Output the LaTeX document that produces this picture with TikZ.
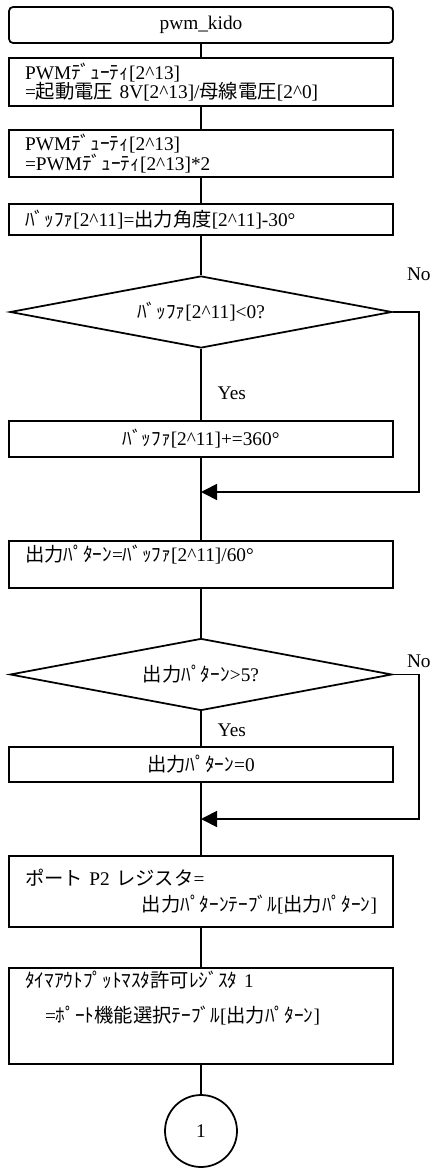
\documentclass[tikz,border=0pt]{standalone}
\usepackage{fontspec}
\setmainfont{Liberation Serif}
\newfontfamily\cjk{Noto Sans CJK JP}
\usetikzlibrary{shapes.geometric, arrows.meta, positioning}
\newcommand{\qpow}[1]{[2\textasciicircum#1]}
\tikzstyle{term} = [rectangle, rounded corners=0.08cm, minimum width=7.68cm, minimum height=0.72cm, text centered, draw=black, line width=1pt]
\tikzstyle{proc} = [rectangle, minimum width=7.68cm, text width=7.04cm, inner xsep=0.32cm, inner ysep=0pt, align=left, draw=black, line width=1pt]
\tikzstyle{decision} = [diamond, aspect=5.3, minimum width=7.64cm, minimum height=1.44cm, inner sep=0pt, text centered, draw=black, line width=1pt]
\tikzstyle{conn} = [circle, minimum size=1.44cm, draw=black, line width=1pt]
\tikzstyle{line} = [line width=1pt]
\tikzstyle{arrow} = [line width=1pt, -{Triangle[length=0.32cm,width=0.32cm]}]
\begin{document}
\begin{tikzpicture}[x=0.02cm, y=-0.02cm, font=\fontsize{11}{11}\selectfont]
\useasboundingbox (0,0) rectangle (431,1168);

\node (start) [term] at (201,25) {pwm\_kido};

\node (duty) [proc, minimum height=0.96cm] at (201,82) {PWM{\cjk ﾃﾞｭｰﾃｨ}\qpow{13}\\={\cjk 起動電圧} 8V\qpow{13}/{\cjk 母線電圧}\qpow{0}};
\node (dutyx) [proc, minimum height=0.94cm] at (201,153.5) {PWM{\cjk ﾃﾞｭｰﾃｨ}\qpow{13}\\=PWM{\cjk ﾃﾞｭｰﾃｨ}\qpow{13}*2};
\node (buf) [proc, minimum height=0.62cm] at (201,219.5) {{\cjk ﾊﾞｯﾌｧ}\qpow{11}={\cjk 出力角度}\qpow{11}-30°};

\node (negq) [decision] at (201,312) {{\cjk ﾊﾞｯﾌｧ}\qpow{11}<0?};
\node (wrap) [proc, align=center, minimum height=0.72cm] at (201,439) {{\cjk ﾊﾞｯﾌｧ}\qpow{11}+=360°};
\coordinate (join1) at (201,492);

\node (pat) [proc, minimum height=0.94cm, text depth=0.44cm] at (201,564.5) {{\cjk 出力ﾊﾟﾀｰﾝ}={\cjk ﾊﾞｯﾌｧ}\qpow{11}/60°};

\node (bigq) [decision] at (201,674.5) {{\cjk 出力ﾊﾟﾀｰﾝ}>5?};
\node (zero) [proc, align=center, minimum height=0.7cm] at (201,764.5) {{\cjk 出力ﾊﾟﾀｰﾝ}=0};
\coordinate (join2) at (201,819);

\node (port) [proc, minimum height=1.42cm] at (201,891.5) {{\cjk ポート} P2 {\cjk レジスタ}=\\[4pt] \hspace*{\fill}{\cjk 出力ﾊﾟﾀｰﾝﾃｰﾌﾞﾙ}[{\cjk 出力ﾊﾟﾀｰﾝ}]};
\node (mask) [proc, minimum height=1.92cm, text depth=1.46cm] at (201,1016) {{\cjk ﾀｲﾏｱｳﾄﾌﾟｯﾄﾏｽﾀ許可ﾚｼﾞｽﾀ} 1\\[9pt] \hspace*{0.4cm}={\cjk ﾎﾟｰﾄ機能選択ﾃｰﾌﾞﾙ}[{\cjk 出力ﾊﾟﾀｰﾝ}]};

\node (one) [conn] at (201,1131) {1};

\draw [line] (start) -- (duty);
\draw [line] (duty) -- (dutyx);
\draw [line] (dutyx) -- (buf);
\draw [line] (buf) -- (negq);
\draw [line] (negq) -- node[right=0.2cm, pos=0.62] {Yes} (wrap);
\draw [line] (wrap) -- (pat);
\draw [arrow] (negq.east) -- ++(0.52cm,0) node[above=0.5cm] {No} |- (join1);

\draw [line] (pat) -- (bigq);
\draw [line] (bigq) -- node[right=0.2cm, pos=0.53] {Yes} (zero);
\draw [line] (zero) -- (port);
\draw [arrow] (bigq.east) -- ++(0.52cm,0) node[above=0pt] {No} |- (join2);

\draw [line] (port) -- (mask);
\draw [line] (mask) -- (one);
\end{tikzpicture}
\end{document}
